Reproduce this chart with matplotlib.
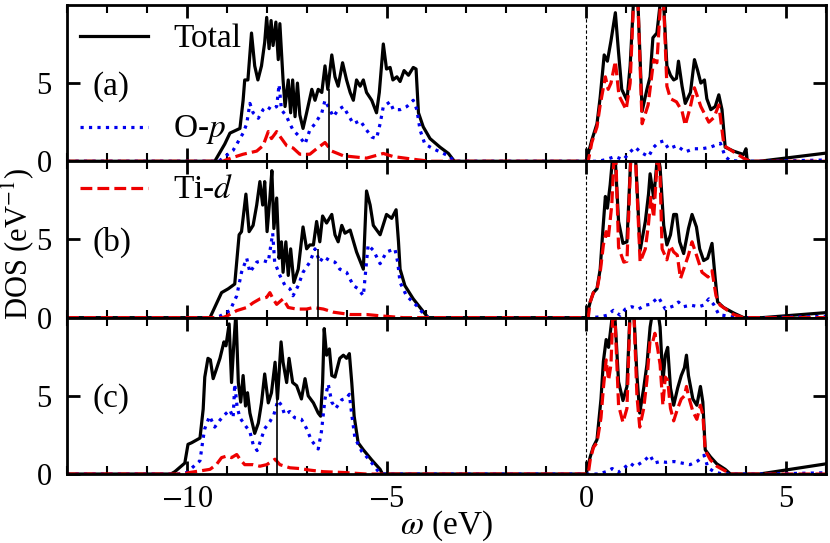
import numpy as np
import matplotlib
matplotlib.use('Agg')
import matplotlib.pyplot as plt
from matplotlib.lines import Line2D

plt.rcParams['font.family'] = ['Liberation Serif', 'DejaVu Serif']
plt.rcParams['mathtext.fontset'] = 'stix'
plt.rcParams['font.size'] = 22

# (energy in eV, DOS)
a_total = [(-13, 0), (-9.30, 0), (-9.05, 1.1), (-8.92, 1.8), (-8.67, 2.1), (-8.59, 3.9), (-8.55, 5.2),
           (-8.47, 5.2), (-8.38, 8.2), (-8.30, 6.1), (-8.22, 5.2), (-8.13, 6.1), (-8.05, 7.6), (-8.00, 9.2),
           (-7.94, 7.2), (-7.89, 9.0), (-7.84, 7.4), (-7.77, 8.9), (-7.71, 6.5), (-7.67, 8.8), (-7.59, 5.2),
           (-7.54, 3.5), (-7.46, 5.2), (-7.40, 3.1), (-7.35, 5.2), (-7.29, 2.85), (-7.23, 5.0), (-7.17, 2.96),
           (-7.09, 2.1), (-7.00, 3.1), (-6.87, 4.6), (-6.79, 3.9), (-6.71, 4.6), (-6.62, 4.4), (-6.54, 6.1),
           (-6.47, 4.6), (-6.37, 6.8), (-6.29, 5.4), (-6.21, 4.8), (-6.10, 6.3), (-6.00, 5.2), (-5.91, 4.4),
           (-5.83, 3.9), (-5.75, 5.2), (-5.66, 4.8), (-5.58, 5.2), (-5.50, 4.4), (-5.37, 3.9), (-5.25, 3.1),
           (-5.18, 4.4), (-5.08, 7.5), (-5.00, 5.9), (-4.91, 6.0), (-4.84, 5.2), (-4.74, 5.4), (-4.66, 5.1),
           (-4.56, 5.8), (-4.45, 5.5), (-4.33, 6.0), (-4.26, 5.9), (-4.20, 3.1), (-4.08, 2.2), (-3.91, 1.45),
           (-3.66, 0.9), (-3.45, 0.5), (-3.30, 0),
           (0.00, 0), (0.14, 1.35), (0.27, 2.4), (0.35, 4.1), (0.45, 6.8), (0.53, 6.4), (0.62, 7.7), (0.73, 9.5),
           (0.81, 6.95), (0.89, 4.6), (1.02, 3.9), (1.10, 6.1), (1.19, 10.5), (1.29, 10.5), (1.40, 3.2),
           (1.52, 4.6), (1.60, 5.4), (1.67, 7.9), (1.77, 8.2), (1.87, 10.5), (1.94, 10.0), (2.02, 6.1),
           (2.11, 5.5), (2.19, 5.2), (2.26, 5.3), (2.31, 6.4), (2.40, 4.8), (2.48, 3.7), (2.61, 4.4), (2.71, 6.5),
           (2.79, 5.8), (2.87, 5.0), (2.96, 5.2), (3.02, 4.0), (3.12, 3.3), (3.23, 3.5), (3.32, 4.25), (3.40, 3.3),
           (3.48, 0.9), (3.69, 0.65), (3.94, 0.43), (4.00, 0.8), (4.03, 0.1), (4.10, 0), (4.34, 0), (6.0, 0.52)]
a_op = [(-13, 0), (-9.2, 0), (-8.84, 0.7), (-8.59, 1.8), (-8.50, 2.4), (-8.42, 3.7), (-8.34, 3.1), (-8.21, 2.75),
        (-8.09, 3.3), (-8.0, 3.5), (-7.88, 3.3), (-7.75, 3.5), (-7.69, 4.9), (-7.63, 3.3), (-7.50, 2.85),
        (-7.42, 2.4), (-7.34, 2.0), (-7.17, 1.55), (-7.04, 1.1), (-6.92, 2.0), (-6.79, 2.4), (-6.62, 3.1),
        (-6.54, 3.9), (-6.42, 3.3), (-6.33, 2.85), (-6.21, 3.3), (-6.08, 3.5), (-5.96, 2.96), (-5.83, 2.4),
        (-5.66, 2.6), (-5.50, 2.0), (-5.37, 1.55), (-5.25, 1.45), (-5.16, 2.4), (-5.08, 3.5), (-4.91, 3.8),
        (-4.83, 3.3), (-4.66, 3.3), (-4.49, 3.5), (-4.33, 3.9), (-4.24, 3.3), (-4.16, 2.0), (-4.04, 1.1),
        (-3.83, 0.8), (-3.45, 0.35), (-3.3, 0),
        (0.3, 0), (0.48, 0.1), (0.72, 0.3), (0.93, 0.1), (1.10, 0.6), (1.23, 0.9), (1.35, 0.6), (1.56, 0.3),
        (1.69, 0.9), (1.81, 1.2), (1.94, 1.3), (2.06, 0.8), (2.27, 1.0), (2.48, 0.6), (2.69, 0.8), (2.90, 0.8),
        (3.11, 0.9), (3.36, 1.15), (3.48, 0.3), (3.6, 0.05), (3.9, 0), (4.5, 0), (6.0, 0.08)]
a_tid = [(-13, 0), (-9.1, 0), (-8.9, 0.2), (-8.59, 0.45), (-8.25, 0.65), (-8.09, 1.0), (-7.96, 1.9), (-7.88, 1.45),
         (-7.75, 1.9), (-7.67, 1.6), (-7.50, 1.0), (-7.34, 0.85), (-7.17, 0.45), (-6.92, 0.45), (-6.75, 0.8),
         (-6.54, 1.2), (-6.37, 0.65), (-6.08, 0.35), (-5.50, 0.2), (-5.08, 0.5), (-4.83, 0.3), (-4.24, 0.1),
         (-3.9, 0),
         (0.05, 0), (0.14, 1.2), (0.27, 2.2), (0.35, 3.6), (0.48, 5.4), (0.55, 4.6), (0.62, 5.0), (0.73, 6.4),
         (0.82, 4.2), (1.0, 3.3), (1.10, 5.0), (1.19, 10.5), (1.29, 10.5), (1.40, 2.4), (1.55, 3.6), (1.69, 6.5),
         (1.77, 6.3), (1.87, 10.5), (1.94, 10.0), (2.02, 4.8), (2.11, 4.0), (2.26, 3.8), (2.40, 3.2), (2.48, 2.3),
         (2.61, 3.5), (2.71, 4.7), (2.87, 3.5), (3.07, 2.5), (3.20, 2.8), (3.32, 3.6), (3.45, 1.0), (3.69, 0.6),
         (3.94, 0.2), (4.1, 0), (6.0, 0)]

b_total = [(-13, 0), (-9.42, 0), (-9.13, 1.6), (-8.96, 1.85), (-8.80, 2.15), (-8.69, 5.3), (-8.63, 5.5),
           (-8.52, 7.9), (-8.44, 5.5), (-8.34, 5.9), (-8.25, 7.2), (-8.17, 8.7), (-8.10, 7.2), (-8.05, 8.7),
           (-7.99, 5.5), (-7.92, 7.65), (-7.87, 9.4), (-7.82, 5.7), (-7.75, 7.65), (-7.69, 3.8), (-7.63, 4.85),
           (-7.59, 2.9), (-7.52, 4.85), (-7.46, 2.7), (-7.40, 4.4), (-7.32, 2.25), (-7.21, 3.1), (-7.09, 5.8),
           (-7.00, 4.4), (-6.92, 4.65), (-6.83, 4.65), (-6.75, 6.15), (-6.67, 4.85), (-6.60, 6.5), (-6.50, 6.05),
           (-6.37, 6.6), (-6.29, 5.3), (-6.21, 4.85), (-6.12, 5.9), (-6.04, 5.4), (-5.91, 5.6), (-5.75, 4.2),
           (-5.58, 3.1), (-5.50, 8.1), (-5.41, 7.2), (-5.33, 5.9), (-5.16, 5.3), (-5.0, 6.6), (-4.87, 6.35),
           (-4.76, 6.9), (-4.70, 4.85), (-4.66, 3.1), (-4.54, 2.05), (-4.33, 1.2), (-3.99, 0.1), (-3.95, 0),
           (0, 0), (0.10, 1.0), (0.18, 1.6), (0.27, 1.85), (0.35, 3.1), (0.42, 5.7), (0.48, 7.75), (0.53, 7.0),
           (0.60, 8.5), (0.67, 10.5), (0.72, 10.5), (0.81, 6.15), (0.92, 4.75), (1.02, 4.85), (1.12, 10.5),
           (1.23, 10.5), (1.35, 4.3), (1.48, 6.15), (1.56, 7.9), (1.60, 9.2), (1.69, 7.65), (1.79, 10.5),
           (1.85, 9.6), (1.94, 5.9), (2.02, 4.65), (2.11, 5.3), (2.19, 6.6), (2.26, 6.6), (2.34, 4.85),
           (2.44, 4.1), (2.56, 5.7), (2.65, 6.6), (2.76, 5.8), (2.84, 4.4), (2.94, 3.65), (3.04, 3.8),
           (3.15, 4.75), (3.23, 2.5), (3.29, 1.0), (3.44, 0.65), (3.69, 0.3), (3.94, 0), (4.4, 0), (6.0, 0.32)]
b_op = [(-13, 0), (-9.3, 0), (-9.17, 0.1), (-8.92, 0.45), (-8.75, 1.4), (-8.63, 2.9), (-8.50, 3.8), (-8.42, 2.9),
        (-8.25, 3.55), (-8.09, 3.65), (-7.96, 3.55), (-7.85, 5.4), (-7.80, 3.55), (-7.67, 2.7), (-7.54, 2.05),
        (-7.42, 1.85), (-7.34, 1.4), (-7.21, 2.05), (-7.09, 2.9), (-6.92, 3.55), (-6.79, 4.4), (-6.67, 3.55),
        (-6.58, 3.9), (-6.42, 3.65), (-6.29, 3.55), (-6.17, 3.1), (-6.00, 2.9), (-5.83, 2.05), (-5.71, 1.85),
        (-5.58, 1.4), (-5.46, 4.65), (-5.33, 4.3), (-5.16, 3.45), (-5.0, 4.2), (-4.79, 4.4), (-4.72, 3.55),
        (-4.66, 2.25), (-4.50, 1.4), (-4.24, 0.75), (-4.04, 0.15), (-3.95, 0),
        (0.1, 0), (0.35, 0.05), (0.52, 0.15), (0.68, 0.47), (0.85, 0.15), (0.98, 0.55), (1.14, 0.7), (1.31, 0.55),
        (1.48, 0.8), (1.60, 0.85), (1.81, 1.3), (1.98, 0.55), (2.19, 0.75), (2.31, 1.0), (2.44, 0.7), (2.61, 0.8),
        (2.82, 0.7), (2.94, 0.8), (3.07, 1.2), (3.19, 0.85), (3.32, 0.2), (3.53, 0.1), (3.78, 0), (4.5, 0),
        (6.0, 0.08)]
b_tid = [(-13, 0), (-9.1, 0), (-9.0, 0.1), (-8.75, 0.45), (-8.50, 0.65), (-8.34, 0.95), (-8.17, 1.2), (-8.00, 1.3),
         (-7.92, 1.6), (-7.84, 1.2), (-7.75, 0.85), (-7.59, 1.2), (-7.46, 0.65), (-7.25, 0.55), (-7.00, 0.55),
         (-6.83, 0.65), (-6.58, 0.55), (-6.33, 0.35), (-5.91, 0.2), (-5.50, 0.2), (-5.08, 0.1), (-4.58, 0),
         (0.05, 0), (0.10, 1.0), (0.18, 1.6), (0.27, 1.8), (0.35, 2.9), (0.43, 4.65), (0.50, 5.5), (0.55, 5.0),
         (0.64, 7.2), (0.70, 10.5), (0.74, 10.5), (0.81, 4.5), (0.94, 3.55), (1.02, 3.6), (1.12, 10.5),
         (1.23, 10.5), (1.35, 3.55), (1.48, 4.4), (1.56, 6.0), (1.62, 7.7), (1.69, 6.4), (1.79, 10.5), (1.85, 9.0),
         (1.90, 4.4), (2.02, 3.7), (2.11, 4.6), (2.19, 4.2), (2.28, 4.0), (2.36, 2.5), (2.56, 4.0), (2.65, 4.85),
         (2.76, 4.0), (2.90, 2.9), (3.05, 2.6), (3.15, 3.0), (3.25, 1.4), (3.35, 0.8), (3.69, 0.2), (3.94, 0),
         (6.0, 0)]

c_total = [(-13, 0), (-10.40, 0), (-10.30, 0.15), (-10.05, 0.7), (-9.97, 1.9), (-9.88, 2.0), (-9.67, 2.3),
           (-9.59, 4.15), (-9.55, 6.2), (-9.47, 7.4), (-9.41, 7.3), (-9.34, 6.1), (-9.26, 6.7), (-9.17, 7.4),
           (-9.07, 8.45), (-9.02, 8.2), (-8.94, 9.6), (-8.88, 5.85), (-8.82, 8.45), (-8.77, 10.3), (-8.71, 5.85),
           (-8.65, 4.6), (-8.59, 6.3), (-8.53, 4.35), (-8.48, 5.2), (-8.42, 3.9), (-8.30, 2.6), (-8.21, 3.25),
           (-8.13, 4.55), (-8.05, 6.4), (-7.96, 4.55), (-7.88, 5.2), (-7.79, 7.15), (-7.73, 4.8), (-7.64, 8.45),
           (-7.59, 7.15), (-7.50, 5.85), (-7.44, 7.4), (-7.35, 5.85), (-7.25, 5.65), (-7.13, 4.8), (-7.04, 6.1),
           (-6.96, 5.0), (-6.83, 4.55), (-6.71, 3.9), (-6.65, 3.7), (-6.60, 5.85), (-6.56, 9.3), (-6.50, 7.6),
           (-6.43, 8.0), (-6.37, 6.3), (-6.29, 6.2), (-6.17, 7.4), (-6.08, 7.6), (-6.0, 7.4), (-5.93, 7.7),
           (-5.87, 5.85), (-5.81, 3.7), (-5.71, 2.0), (-5.58, 1.55), (-5.37, 0.9), (-5.16, 0.3), (-5.1, 0),
           (0, 0), (0.10, 1.1), (0.18, 1.75), (0.27, 2.2), (0.37, 4.8), (0.43, 7.2), (0.50, 8.6), (0.56, 8.1),
           (0.62, 9.4), (0.67, 10.5), (0.72, 10.0), (0.81, 5.9), (0.92, 4.7), (1.02, 5.6), (1.10, 10.5),
           (1.19, 10.5), (1.27, 6.3), (1.34, 3.9), (1.44, 5.5), (1.52, 7.0), (1.60, 9.4), (1.67, 10.5),
           (1.72, 10.0), (1.79, 10.5), (1.85, 9.4), (1.92, 5.9), (1.98, 7.6), (2.04, 8.1), (2.11, 5.5),
           (2.19, 4.4), (2.29, 5.5), (2.38, 6.3), (2.46, 6.8), (2.51, 7.6), (2.56, 6.3), (2.67, 4.8), (2.77, 4.4),
           (2.86, 5.6), (2.92, 4.6), (2.98, 1.55), (3.11, 1.1), (3.27, 0.65), (3.48, 0.3), (3.61, 0), (4.34, 0),
           (6.0, 0.65)]
c_op = [(-13, 0), (-10.2, 0), (-10.0, 0.1), (-9.67, 0.85), (-9.59, 2.3), (-9.55, 2.9), (-9.43, 3.7), (-9.30, 3.0),
        (-9.17, 3.45), (-9.05, 3.8), (-8.92, 4.1), (-8.84, 3.6), (-8.80, 5.75), (-8.74, 4.3), (-8.67, 3.6),
        (-8.55, 3.15), (-8.42, 2.7), (-8.34, 1.9), (-8.24, 1.5), (-8.13, 2.3), (-8.05, 2.9), (-7.92, 3.35),
        (-7.82, 3.8), (-7.72, 4.7), (-7.63, 4.4), (-7.55, 3.8), (-7.42, 4.0), (-7.30, 3.6), (-7.13, 3.5),
        (-7.0, 2.9), (-6.88, 2.15), (-6.71, 1.6), (-6.63, 2.7), (-6.54, 4.8), (-6.46, 5.75), (-6.37, 4.6),
        (-6.27, 4.2), (-6.12, 4.75), (-6.0, 4.85), (-5.93, 5.1), (-5.87, 3.8), (-5.79, 2.3), (-5.62, 1.45),
        (-5.41, 0.85), (-5.20, 0.15), (-5.1, 0),
        (0.3, 0), (0.5, 0.15), (0.65, 0.35), (0.8, 0.1), (0.95, 0.4), (1.1, 0.7), (1.2, 0.5), (1.3, 0.6),
        (1.45, 0.85), (1.6, 1.2), (1.7, 0.7), (1.85, 0.8), (2.0, 0.75), (2.2, 0.8), (2.4, 0.7), (2.6, 0.6),
        (2.8, 0.85), (2.95, 1.2), (3.05, 0.4), (3.2, 0.15), (3.4, 0), (4.5, 0), (6.0, 0.08)]
c_tid = [(-13, 0), (-10.1, 0), (-9.93, 0.1), (-9.67, 0.2), (-9.42, 0.3), (-9.26, 0.6), (-9.13, 1.05), (-9.0, 1.15),
         (-8.88, 1.05), (-8.75, 1.25), (-8.67, 0.95), (-8.55, 0.6), (-8.34, 0.6), (-8.17, 0.5), (-8.0, 0.6),
         (-7.79, 0.95), (-7.67, 0.6), (-7.42, 0.4), (-7.17, 0.35), (-6.92, 0.25), (-6.58, 0.15), (-6.08, 0.1),
         (-5.5, 0),
         (0.05, 0), (0.10, 0.9), (0.18, 1.7), (0.27, 2.0), (0.37, 3.6), (0.43, 5.5), (0.50, 7.3), (0.56, 6.0),
         (0.62, 7.0), (0.67, 10.5), (0.72, 10.0), (0.81, 4.4), (0.92, 3.3), (1.02, 4.2), (1.10, 10.5),
         (1.19, 10.5), (1.27, 5.0), (1.34, 3.0), (1.44, 4.2), (1.52, 6.0), (1.60, 8.6), (1.67, 8.5), (1.72, 9.0),
         (1.79, 8.0), (1.85, 7.0), (1.92, 4.4), (1.98, 6.2), (2.04, 6.0), (2.11, 4.2), (2.19, 3.4), (2.29, 4.2),
         (2.38, 4.8), (2.46, 5.0), (2.51, 5.6), (2.56, 5.0), (2.67, 4.0), (2.77, 3.5), (2.86, 4.4), (2.92, 3.8),
         (2.98, 1.5), (3.11, 0.9), (3.27, 0.5), (3.48, 0.2), (3.61, 0), (6.0, 0)]

# thin drop line in each panel (position, height)
marks = [(-6.44, 4.6), (-6.71, 4.4), (-7.73, 4.8)]
panel_labels = ['(a)', '(b)', '(c)']
panels = [(a_total, a_op, a_tid), (b_total, b_op, b_tid), (c_total, c_op, c_tid)]

fig, axes = plt.subplots(3, 1, figsize=(8.3, 5.43), dpi=100, sharex=True)
fig.subplots_adjust(left=0.0807, right=0.995, bottom=0.127, top=0.991, hspace=0)

for i, ax in enumerate(axes):
    tot, op, tid = [np.array(s).T for s in panels[i]]
    ax.plot(tot[0], tot[1], color='k', lw=2.3)
    ax.plot(op[0], op[1], color='#0000ee', lw=2.3, ls=':')
    ax.plot(tid[0], tid[1], color='#ee0000', lw=2.3, ls='--')
    ax.vlines(marks[i][0], 0, marks[i][1], color='k', lw=1.2)
    ax.axvline(0, color='k', lw=0.8, ls=(0, (3, 2)))
    ax.set_xlim(-13, 6)
    ax.set_ylim(0, 10)
    ax.set_yticks([0, 5])
    ax.set_xticks([-10, -5, 0, 5])
    ax.set_xticks(np.arange(-13, 7), minor=True)
    ax.tick_params(which='both', direction='in', top=True, right=True)
    ax.tick_params(which='major', length=9.5, width=2.0)
    ax.tick_params(which='minor', length=6, width=1.5)
    ax.tick_params(axis='y', pad=11)
    ax.tick_params(axis='x', pad=8)
    for s in ax.spines.values():
        s.set_linewidth(2.0)
    ax.text(0.033, 0.48, panel_labels[i], transform=ax.transAxes, ha='left', va='center', fontsize=24)

axes[2].set_xticklabels(['$-$10', '$-$5', '0', '5'])
axes[2].set_xlabel(r'$\omega$ (eV)', fontsize=24, labelpad=-4)
axes[1].set_ylabel(r'DOS (eV$^{-1}$)', fontsize=22)
axes[1].yaxis.set_label_coords(-0.041, 0.47)

# legend drawn by hand, entries are spread over the two upper panels
entries = [('Total', 'k', '-', 0.9337, 0.914),
           ('O-$p$', '#0000ee', ':', 0.7667, 0.748),
           ('Ti-$d$', '#ee0000', '--', 0.6544, 0.6348)]
for lab, col, ls, yl, yt in entries:
    fig.add_artist(Line2D([0.0964, 0.1783], [yl, yl], color=col, ls=ls, lw=2.3))
    fig.text(0.2084, yt, lab, ha='left', va='baseline', fontsize=24)

fig.savefig('out.png', dpi=100)
